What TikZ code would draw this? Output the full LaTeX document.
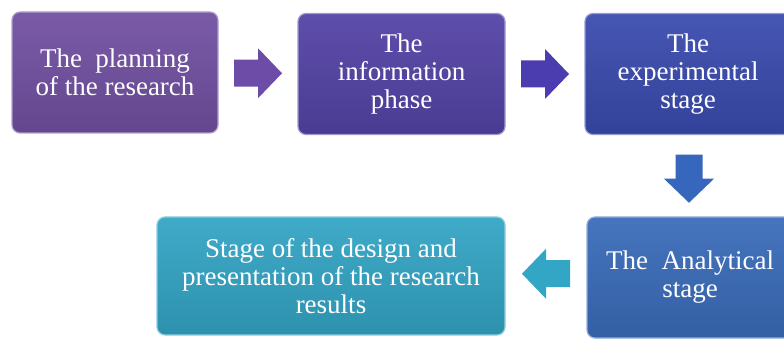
\documentclass[tikz,border=0pt]{standalone}
\usepackage{fontspec}
\setmainfont{Liberation Serif}
\usepackage{tikz}
\usetikzlibrary{calc}

\definecolor{planpurple}{HTML}{7250A2}
\definecolor{infoindigo}{HTML}{5443A6}
\definecolor{expblue}{HTML}{3A4BAE}
\definecolor{analblue}{HTML}{3A6CBA}
\definecolor{designcyan}{HTML}{33A5C5}

\tikzset{
  stagebox/.style={rectangle, rounded corners=8pt, minimum width=206pt,
    minimum height=121pt, align=center, text=white,
    font=\fontsize{27}{28}\selectfont, draw=#1!55!white, line width=1.2pt,
    top color=#1!94!white, bottom color=#1!88!black}
}

% block arrow: position, angle, colour
\newcommand{\blockarrow}[3]{%
  \fill[#3, shift={#1}, rotate=#2] (-24,-13.5) -- (0,-13.5) -- (0,-25)
    -- (24,0) -- (0,25) -- (0,13.5) -- (-24,13.5) -- cycle;}

\begin{document}
\begin{tikzpicture}[x=1pt,y=1pt]
\useasboundingbox (0,0) rectangle (784,340);
\clip (0,0) rectangle (784,340);

 \node[stagebox=planpurple] (plan) at (115,267.5) {The~ planning\\of the research};
 \node[stagebox=infoindigo, minimum width=207pt] (info) at (401.5,266) {The\\information\\phase};
 \node[stagebox=expblue] (exper) at (688,266) {The\\experimental\\stage};
 \node[stagebox=analblue] (anal) at (690,62.5) {The~ Analytical\\stage};
 \node[stagebox=designcyan, minimum width=348pt, minimum height=118pt] (design) at (331,64)
   {Stage of the design and\\presentation of the research\\results};

 \blockarrow{($(plan.east)!0.5!(info.west)$)}{0}{planpurple!95!blue}
 \blockarrow{($(info.east)!0.5!(exper.west)$)}{0}{infoindigo!90!blue}
 \blockarrow{($(exper.south)!0.5!(anal.north)+(0,-3)$)}{-90}{analblue!95!blue}
 \blockarrow{($(design.east)!0.5!(anal.west)+(0,3)$)}{180}{designcyan}
\end{tikzpicture}
\end{document}
